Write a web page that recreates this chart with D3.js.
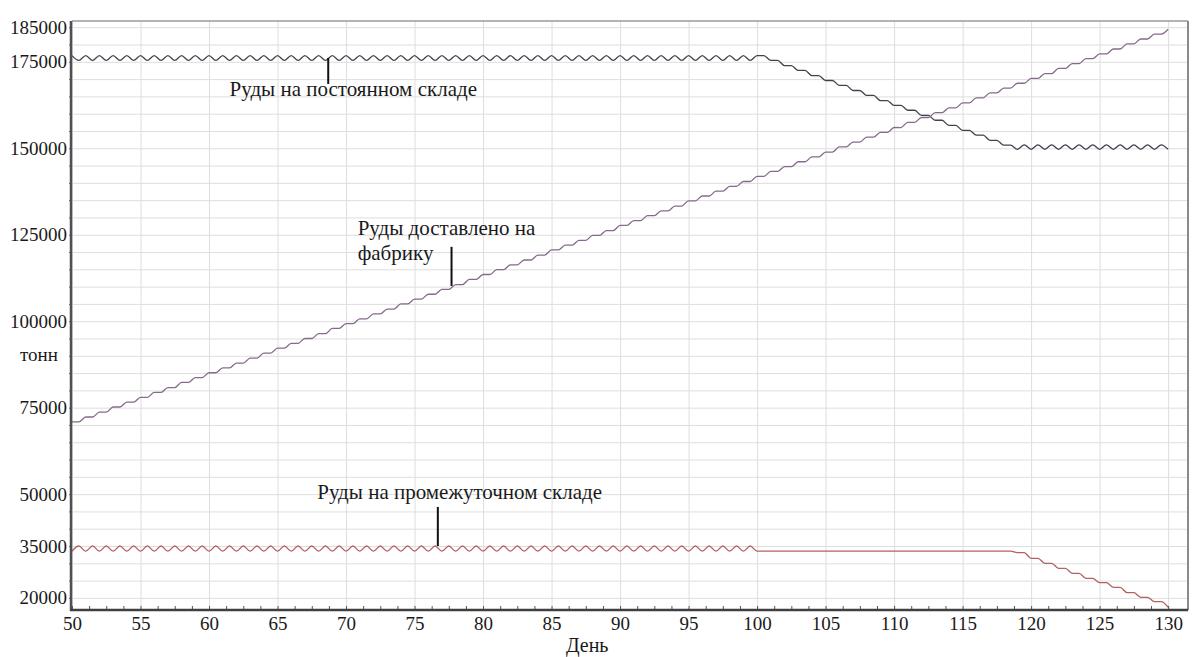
<!DOCTYPE html>
<html lang="ru">

<head>
	<meta charset="UTF-8" />
	<title>Руда по дням</title>
	<script src="https://cdn.jsdelivr.net/npm/d3@7"></script>
	<style>
		body { margin: 0; background: #fff; }
		text { font-family: "Liberation Serif", "DejaVu Serif", serif; fill: #1a1a1a; }
	</style>
</head>

<body>
	<svg id="vis" width="1193" height="657"></svg>

	<script>
		// Дни
		var days = d3.range(50, 131);
		var xTickLabels = [50, 55, 60, 65, 70, 75, 80, 85, 90, 95, 100, 105, 110, 115, 120, 125, 130];
		var yTickLabels = [20000, 35000, 50000, 75000, 100000, 125000, 150000, 175000, 185000];

		// Руды на постоянном складе : значения в начале дня (50..130) и в середине дня (50.5..129.5)
		var permDay = [
			176800, 176800, 176800, 176800, 176800, 176800, 176800, 176800, 176800, 176800,
			176800, 176800, 176800, 176800, 176800, 176800, 176800, 176800, 176800, 176800,
			176800, 176800, 176800, 176800, 176800, 176800, 176800, 176800, 176800, 176800,
			176800, 176800, 176800, 176800, 176800, 176800, 176800, 176800, 176800, 176800,
			176800, 176800, 176800, 176800, 176800, 176800, 176800, 176800, 176800, 176800,
			176800, 175400, 173900, 172500, 171000, 169600, 168200, 166700, 165300, 163800,
			162400, 161000, 159500, 158100, 156600, 155200, 153800, 152300, 150900, 149700,
			149700, 149700, 149700, 149700, 149700, 149700, 149700, 149700, 149700, 149700,
			149700
		];
		var permHalf = [
			175400, 175400, 175400, 175400, 175400, 175400, 175400, 175400, 175400, 175400,
			175400, 175400, 175400, 175400, 175400, 175400, 175400, 175400, 175400, 175400,
			175400, 175400, 175400, 175400, 175400, 175400, 175400, 175400, 175400, 175400,
			175400, 175400, 175400, 175400, 175400, 175400, 175400, 175400, 175400, 175400,
			175400, 175400, 175400, 175400, 175400, 175400, 175400, 175400, 175400, 175400,
			176800, 175400, 173900, 172500, 171000, 169600, 168200, 166700, 165300, 163800,
			162400, 161000, 159500, 158100, 156600, 155200, 153800, 152300, 150900, 151000,
			151000, 151000, 151000, 151000, 151000, 151000, 151000, 151000, 151000, 151000
		];

		// Руды доставлено на фабрику (ступеньки, значение держится до середины дня)
		var delivDay = [
			70900, 72300, 73700, 75200, 76600, 78000, 79400, 80800, 82300, 83700,
			85100, 86500, 87900, 89300, 90800, 92200, 93600, 95000, 96400, 97900,
			99300, 100700, 102100, 103500, 105000, 106400, 107800, 109200, 110600, 112100,
			113500, 114900, 116300, 117700, 119100, 120600, 122000, 123400, 124800, 126200,
			127700, 129100, 130500, 131900, 133300, 134800, 136200, 137600, 139000, 140400,
			141900, 143300, 144700, 146100, 147500, 148900, 150400, 151800, 153200, 154600,
			156000, 157500, 158900, 160300, 161700, 163100, 164600, 166000, 167400, 168800,
			170200, 171600, 173100, 174500, 175900, 177300, 178700, 180200, 181600, 183000,
			184400
		];
		var delivHalf = delivDay.slice(0, 80);

		// Руды на промежуточном складе
		var interDay = [
			33500, 33500, 33500, 33500, 33500, 33500, 33500, 33500, 33500, 33500,
			33500, 33500, 33500, 33500, 33500, 33500, 33500, 33500, 33500, 33500,
			33500, 33500, 33500, 33500, 33500, 33500, 33500, 33500, 33500, 33500,
			33500, 33500, 33500, 33500, 33500, 33500, 33500, 33500, 33500, 33500,
			33500, 33500, 33500, 33500, 33500, 33500, 33500, 33500, 33500, 33500,
			33500, 33500, 33500, 33500, 33500, 33500, 33500, 33500, 33500, 33500,
			33500, 33500, 33500, 33500, 33500, 33500, 33500, 33500, 33500, 33070,
			31450, 30000, 28560, 27110, 25670, 24400, 23070, 21500, 20170, 18900,
			17300
		];
		var interHalf = [
			35000, 35000, 35000, 35000, 35000, 35000, 35000, 35000, 35000, 35000,
			35000, 35000, 35000, 35000, 35000, 35000, 35000, 35000, 35000, 35000,
			35000, 35000, 35000, 35000, 35000, 35000, 35000, 35000, 35000, 35000,
			35000, 35000, 35000, 35000, 35000, 35000, 35000, 35000, 35000, 35000,
			35000, 35000, 35000, 35000, 35000, 35000, 35000, 35000, 35000, 35000,
			33500, 33500, 33500, 33500, 33500, 33500, 33500, 33500, 33500, 33500,
			33500, 33500, 33500, 33500, 33500, 33500, 33500, 33500, 33500, 33070,
			31450, 30000, 28560, 27110, 25670, 24400, 23070, 21500, 20170, 18900
		];

		var svg = d3.select("#vis");

		var pLeft = 72, pRight = 1188, pTop = 21, pBottom = 610;

		// Echelles
		var x = d3.scaleLinear().domain([50, 131.45]).range([pLeft, pRight]);
		var y = d3.scaleLinear().domain([16500, 186800]).range([pBottom, pTop]);

		// Сетка
		var gGridY = svg.append("g").attr("transform", "translate(" + pLeft + ",0)")
			.call(d3.axisLeft(y).tickValues(d3.range(20000, 185001, 5000)).tickSize(-(pRight - pLeft)).tickFormat(""));
		var gGridX = svg.append("g").attr("transform", "translate(0," + pBottom + ")")
			.call(d3.axisBottom(x).tickValues(xTickLabels).tickSize(-(pBottom - pTop)).tickFormat(""));
		svg.selectAll(".domain").remove();
		svg.selectAll("line").attr("stroke", "#dedede").attr("stroke-width", 1);

		// Рамка
		svg.append("line").attr("x1", pLeft).attr("x2", pRight).attr("y1", pTop).attr("y2", pTop)
			.attr("stroke", "#9a9a9a").attr("stroke-width", 1.5);
		svg.append("line").attr("x1", pRight).attr("x2", pRight).attr("y1", pTop).attr("y2", pBottom)
			.attr("stroke", "#8a8a8a").attr("stroke-width", 2);

		// Линии
		function points(dayVals, halfVals) {
			var pts = [];
			for (var i = 0; i < days.length; i++) {
				pts.push([days[i], dayVals[i]]);
				if (i < halfVals.length) pts.push([days[i] + 0.5, halfVals[i]]);
			}
			return pts;
		}
		var line = d3.line()
			.x(function (d) { return x(d[0]); })
			.y(function (d) { return y(d[1]); })
			.curve(d3.curveMonotoneX);

		var series = [
			{ pts: points(permDay, permHalf), color: "#46404e" },
			{ pts: points(delivDay, delivHalf), color: "#86698c" },
			{ pts: points(interDay, interHalf), color: "#b3625f" }
		];
		series.forEach(function (s) {
			svg.append("path")
				.attr("d", line(s.pts))
				.attr("fill", "none")
				.attr("stroke", s.color)
				.attr("stroke-width", 1.3);
		});

		// Axe Y
		var gyMinor = svg.append("g").attr("transform", "translate(" + pLeft + ",0)")
			.call(d3.axisLeft(y).tickValues(d3.range(20000, 185001, 5000)).tickSize(3).tickFormat(""));
		gyMinor.select(".domain").remove();
		gyMinor.selectAll("line").attr("stroke", "#666");
		var gy = svg.append("g").attr("transform", "translate(" + (pLeft - 1) + ",0)")
			.call(d3.axisLeft(y).tickValues(yTickLabels).tickSize(0).tickPadding(4).tickFormat(d3.format("d")));
		gy.select(".domain").remove();
		gy.selectAll("text").attr("font-size", 19).attr("font-family", "Liberation Serif").attr("fill", "#1a1a1a");
		svg.append("line").attr("x1", pLeft - 1).attr("x2", pLeft - 1).attr("y1", pTop).attr("y2", pBottom + 1)
			.attr("stroke", "#505050").attr("stroke-width", 2.5);

		// Axe X
		var minorX = [];
		for (var t = 50; t <= 131; t += 1.25) minorX.push(t);
		var gxMinor = svg.append("g").attr("transform", "translate(0," + pBottom + ")")
			.call(d3.axisBottom(x).tickValues(minorX).tickSize(-4).tickFormat(""));
		gxMinor.select(".domain").remove();
		gxMinor.selectAll("line").attr("stroke", "#555");
		var gx = svg.append("g").attr("transform", "translate(0," + pBottom + ")")
			.call(d3.axisBottom(x).tickValues(xTickLabels).tickSize(0).tickPadding(7));
		gx.select(".domain").remove();
		gx.selectAll("text").attr("font-size", 19).attr("font-family", "Liberation Serif").attr("fill", "#1a1a1a");
		svg.append("line").attr("x1", pLeft - 2).attr("x2", pRight).attr("y1", pBottom).attr("y2", pBottom)
			.attr("stroke", "#404040").attr("stroke-width", 2.5);

		// Подписи осей
		svg.append("text").attr("x", x(87.6)).attr("y", 652).attr("text-anchor", "middle")
			.attr("font-size", 20).text("День");
		svg.append("text").attr("x", pLeft - 33).attr("y", y(90200)).attr("dy", "0.32em")
			.attr("text-anchor", "middle").attr("font-size", 19).text("тонн");

		// Аннотации
		var notes = [
			{ lines: ["Руды на постоянном складе"], tx: 61.5, ty: [165100], px: 68.7, p1: 176100, p2: 168600 },
			{ lines: ["Руды доставлено на", "фабрику"], tx: 70.85, ty: [124900, 117800], px: 77.7, p1: 121500, p2: 110200 },
			{ lines: ["Руды на промежуточном складе"], tx: 67.9, ty: [48600], px: 76.7, p1: 46300, p2: 35000 }
		];
		notes.forEach(function (n) {
			n.lines.forEach(function (l, i) {
				svg.append("text").attr("x", x(n.tx)).attr("y", y(n.ty[i]))
					.attr("font-size", 21).text(l);
			});
			svg.append("line").attr("x1", x(n.px)).attr("x2", x(n.px))
				.attr("y1", y(n.p1)).attr("y2", y(n.p2))
				.attr("stroke", "#111").attr("stroke-width", 2);
		});
	</script>
</body>

</html>
